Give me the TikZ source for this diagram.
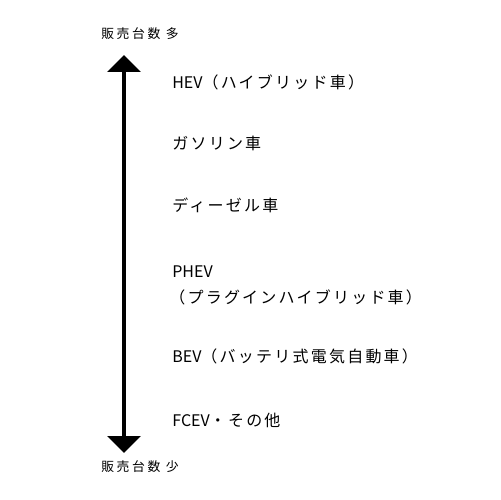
\documentclass[tikz,border=0pt]{standalone}
\usepackage{fontspec}
\setmainfont{Noto Sans CJK JP}
\newfontfamily\jplbl[LetterSpace=14]{Noto Sans CJK JP}
\newfontfamily\jpax[LetterSpace=20]{Noto Sans CJK JP}
\newcommand{\lat}[1]{{\rmfamily #1}}
\usetikzlibrary{arrows.meta}
\begin{document}
\begin{tikzpicture}[x=0.02cm,y=-0.02cm,
  lbl/.style={anchor=west,inner sep=0pt,font=\jplbl\fontsize{9.1}{11}\selectfont},
  axlbl/.style={anchor=west,inner sep=0pt,font=\jpax\fontsize{7.3}{9}\selectfont},
  axis/.style={line width=0.08cm,-{Triangle[width=0.66cm,length=0.34cm]}}]
\useasboundingbox (0,0) rectangle (500,500);
\fill[white] (0,0) rectangle (500,500);
\coordinate (mid) at (124,250);
\coordinate (top) at (124,55);
\coordinate (bot) at (124,453);
\draw[axis] (mid) -- (top);
\draw[axis] (mid) -- (bot);
\node[axlbl] (hi) at (101,34) {販売台数 多};
\node[axlbl] (lo) at (101,467) {販売台数 少};
\node[lbl] (hev) at (172,82.5) {\lat{HEV}（ハイブリッド車）};
\node[lbl] (gas) at (172,143.5) {ガソリン車};
\node[lbl] (die) at (172,205) {ディーゼル車};
\node[lbl] (phev) at (172,271.5) {\lat{PHEV}};
\node[lbl] (phev2) at (169,297.5) {（プラグインハイブリッド車）};
\node[lbl] (bev) at (172,356.5) {\lat{BEV}（バッテリ式電気自動車）};
\node[lbl] (fcev) at (172,420) {\lat{FCEV}・その他};
\end{tikzpicture}
\end{document}
